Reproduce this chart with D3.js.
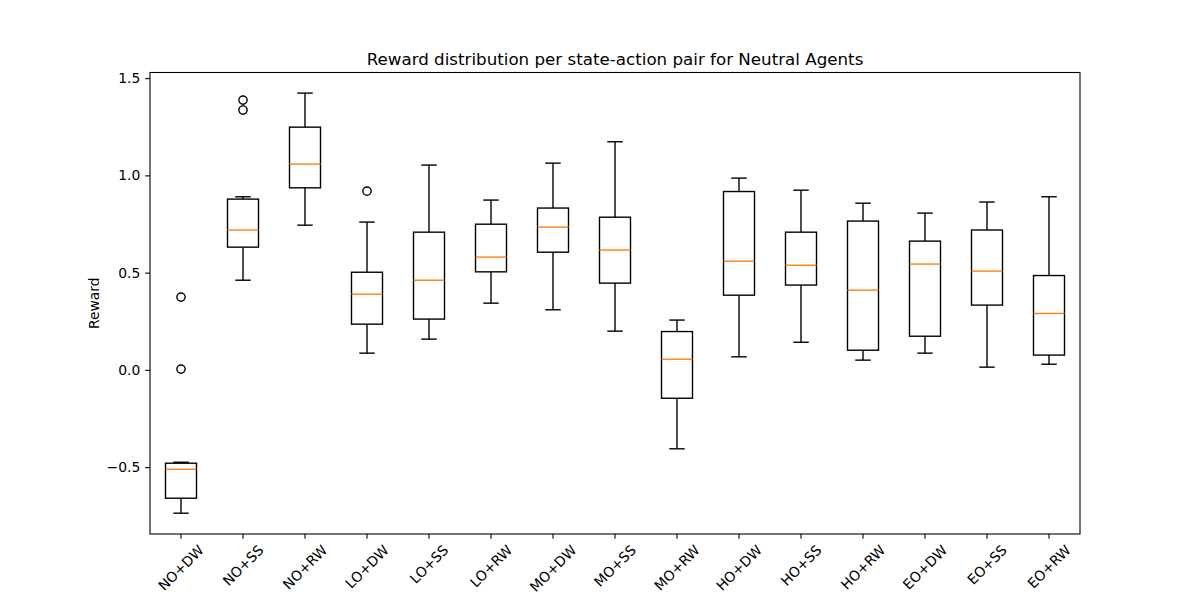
<!DOCTYPE html>
<html>
<head>
<meta charset="utf-8">
<script src="https://cdn.jsdelivr.net/npm/d3@7"></script>
<style>
  body { margin: 0; background: #fff; }
  svg { font-family: "DejaVu Sans", sans-serif; }
</style>
</head>
<body>
<div id="chart"></div>
<script>
// Box statistics (whisker low, Q1, median, Q3, whisker high, outliers)
const categories = ["NO+DW", "NO+SS", "NO+RW", "LO+DW", "LO+SS", "LO+RW", "MO+DW", "MO+SS",
  "MO+RW", "HO+DW", "HO+SS", "HO+RW", "EO+DW", "EO+SS", "EO+RW"];
const whiskerLow = [-0.737, 0.461, 0.744, 0.086, 0.158, 0.343, 0.309, 0.199, -0.406, 0.067, 0.142, 0.050, 0.086, 0.014, 0.029];
const q1 = [-0.660, 0.631, 0.936, 0.235, 0.261, 0.504, 0.605, 0.446, -0.146, 0.384, 0.436, 0.101, 0.173, 0.333, 0.076];
const medians = [-0.511, 0.719, 1.058, 0.389, 0.461, 0.580, 0.734, 0.616, 0.055, 0.559, 0.538, 0.410, 0.544, 0.508, 0.290];
const q3 = [-0.480, 0.878, 1.248, 0.502, 0.708, 0.749, 0.832, 0.785, 0.197, 0.917, 0.708, 0.765, 0.662, 0.719, 0.485];
const whiskerHigh = [-0.475, 0.890, 1.423, 0.760, 1.053, 0.873, 1.063, 1.173, 0.256, 0.986, 0.924, 0.857, 0.806, 0.863, 0.890];
const outliers = [[0.374, 0.004], [1.387, 1.336], [], [0.919], [], [], [], [], [], [], [], [], [], [], []];
const yTicks = [-0.5, 0.0, 0.5, 1.0, 1.5];
const yDomain = [-0.844, 1.529];

const width = 1200, height = 600;
const margin = { top: 72.5, right: 120, bottom: 66, left: 150 };
const innerW = width - margin.left - margin.right;
const innerH = height - margin.top - margin.bottom;

const boxes = categories.map((c, i) => ({
  cat: c, lo: whiskerLow[i], q1: q1[i], med: medians[i], q3: q3[i], hi: whiskerHigh[i], out: outliers[i]
}));

const svg = d3.select("#chart").append("svg")
  .attr("width", width).attr("height", height);

const g = svg.append("g").attr("transform", `translate(${margin.left},${margin.top})`);

const x = d3.scaleBand().domain(categories).range([0, innerW]).paddingInner(0).paddingOuter(0);
const y = d3.scaleLinear().domain(yDomain).range([innerH, 0]);

const bw = x.bandwidth();
const boxW = bw * 0.5;
const capW = bw * 0.25;
const lw = 1.39;

const bx = g.selectAll(".box").data(boxes).join("g")
  .attr("class", "box")
  .attr("transform", d => `translate(${x(d.cat) + bw / 2},0)`);

// whiskers
bx.append("line").attr("x1", 0).attr("x2", 0)
  .attr("y1", d => y(d.q3)).attr("y2", d => y(d.hi))
  .attr("stroke", "#000").attr("stroke-width", lw);
bx.append("line").attr("x1", 0).attr("x2", 0)
  .attr("y1", d => y(d.q1)).attr("y2", d => y(d.lo))
  .attr("stroke", "#000").attr("stroke-width", lw);
// caps
bx.append("line").attr("x1", -capW / 2).attr("x2", capW / 2)
  .attr("y1", d => y(d.hi)).attr("y2", d => y(d.hi))
  .attr("stroke", "#000").attr("stroke-width", lw);
bx.append("line").attr("x1", -capW / 2).attr("x2", capW / 2)
  .attr("y1", d => y(d.lo)).attr("y2", d => y(d.lo))
  .attr("stroke", "#000").attr("stroke-width", lw);
// box
bx.append("rect")
  .attr("x", -boxW / 2).attr("width", boxW)
  .attr("y", d => y(d.q3)).attr("height", d => y(d.q1) - y(d.q3))
  .attr("fill", "none").attr("stroke", "#000").attr("stroke-width", lw);
// median
bx.append("line").attr("x1", -boxW / 2).attr("x2", boxW / 2)
  .attr("y1", d => y(d.med)).attr("y2", d => y(d.med))
  .attr("stroke", "#ff7f0e").attr("stroke-width", lw);
// fliers
bx.selectAll(".flier").data(d => d.out).join("circle")
  .attr("class", "flier")
  .attr("cx", 0).attr("cy", v => y(v)).attr("r", 4.15)
  .attr("fill", "none").attr("stroke", "#000").attr("stroke-width", lw);

// frame
g.append("rect").attr("width", innerW).attr("height", innerH)
  .attr("fill", "none").attr("stroke", "#000").attr("stroke-width", 1.1);

// y axis
const fmt = v => d3.format(".1f")(v).replace("-", "\u2212");
const yAxis = g.append("g").call(d3.axisLeft(y).tickValues(yTicks).tickFormat(fmt).tickSize(4.86).tickPadding(4.86));
yAxis.select(".domain").remove();
yAxis.selectAll("line").attr("stroke-width", 1.1);
yAxis.selectAll("text").attr("font-size", 13.9).attr("font-family", "DejaVu Sans").attr("fill", "#000");

// x axis ticks
const xAxis = g.append("g").attr("transform", `translate(0,${innerH})`)
  .call(d3.axisBottom(x).tickSize(4.86).tickFormat(""));
xAxis.select(".domain").remove();
xAxis.selectAll("line").attr("stroke-width", 1.1);

// rotated x labels, bbox centred under tick
const labelTop = innerH + 4.86 + 4.86;
g.selectAll(".xl").data(categories).join("text")
  .attr("class", "xl")
  .attr("font-size", 13.9)
  .attr("text-anchor", "middle")
  .attr("dominant-baseline", "central")
  .text(d => d)
  .each(function (d) {
    const w = this.getComputedTextLength();
    const h = 13.9 * 0.75;
    const half = (w + h) / (2 * Math.SQRT2);
    d3.select(this).attr("transform",
      `translate(${x(d) + bw / 2},${labelTop + half}) rotate(-45)`);
  });

// title and y label
svg.append("text")
  .attr("x", margin.left + innerW / 2).attr("y", margin.top - 8)
  .attr("text-anchor", "middle").attr("font-size", 16.7)
  .text("Reward distribution per state-action pair for Neutral Agents");

svg.append("text")
  .attr("transform", `translate(99,${margin.top + innerH / 2}) rotate(-90)`)
  .attr("text-anchor", "middle").attr("font-size", 13.9)
  .text("Reward");
</script>
</body>
</html>
